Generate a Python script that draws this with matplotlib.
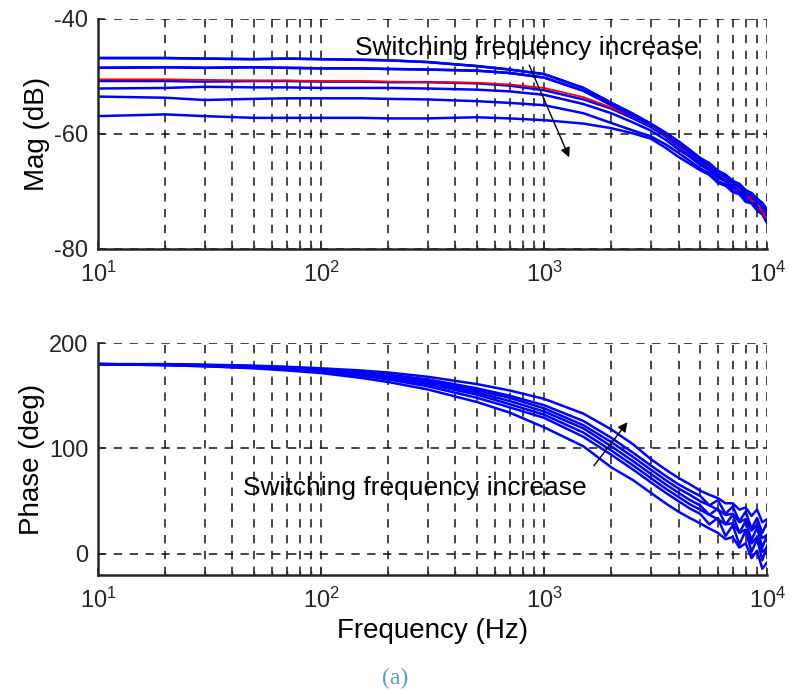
import numpy as np
import matplotlib
matplotlib.use('Agg')
import matplotlib.pyplot as plt
from matplotlib.ticker import LogLocator

plt.rcParams['font.family'] = ['Liberation Sans', 'DejaVu Sans']
plt.rcParams['mathtext.fontset'] = 'custom'
plt.rcParams['mathtext.rm'] = 'Liberation Sans'
plt.rcParams['axes.unicode_minus'] = False

# frequency points (Hz)
freq = [10, 20, 30, 50, 70, 100, 150, 200, 300, 500, 700, 1000, 1500, 2000, 2500,
        3000, 3500, 4000, 4500, 5000, 5500, 6000, 6500, 7000, 7500, 8000, 8500, 9000, 9500, 10000]

# magnitude (dB), one list per switching frequency
mag1 = [-46.8, -46.8, -46.9, -47.0, -46.9, -47.0, -47.1, -47.2, -47.5, -48.2, -48.8, -49.6, -52.0, -54.6, -56.5,
        -58.2, -59.8, -61.3, -62.8, -64.2, -65.1, -66.4, -67.1, -68.2, -68.7, -69.8, -70.3, -71.3, -72.0, -73.2]
mag2 = [-48.5, -48.4, -48.5, -48.4, -48.5, -48.6, -48.6, -48.7, -48.8, -49.0, -49.4, -50.2, -52.5, -55.0, -56.9,
        -58.4, -60.0, -61.8, -63.2, -64.6, -65.5, -66.9, -67.5, -68.7, -69.2, -70.3, -70.8, -71.9, -72.4, -73.8]
mag3 = [-50.8, -50.8, -50.9, -50.8, -50.8, -50.9, -50.9, -51.0, -51.0, -51.2, -51.6, -52.4, -54.0, -55.6, -57.3,
        -58.8, -60.4, -62.2, -63.6, -65.0, -65.9, -67.3, -67.9, -69.0, -69.5, -70.7, -71.1, -72.3, -72.8, -74.2]
mag4 = [-52.1, -52.0, -51.8, -51.9, -51.9, -52.0, -52.0, -52.0, -52.1, -52.3, -52.6, -53.2, -54.8, -56.4, -58.0,
        -59.4, -61.0, -62.7, -64.0, -65.4, -66.3, -67.6, -68.2, -69.4, -69.8, -71.1, -71.5, -72.7, -73.2, -74.7]
mag5 = [-53.5, -53.7, -54.1, -53.9, -53.8, -53.8, -53.8, -53.9, -54.0, -54.3, -54.6, -55.0, -56.4, -58.1, -59.4,
        -60.4, -61.8, -63.3, -64.7, -66.0, -66.8, -68.2, -68.7, -69.9, -70.2, -71.5, -71.8, -73.1, -73.7, -75.2]
mag6 = [-56.9, -56.6, -56.9, -57.2, -57.2, -57.2, -57.2, -57.3, -57.3, -57.1, -57.3, -57.6, -58.2, -59.0, -59.9,
        -60.8, -62.4, -64.0, -65.2, -66.3, -67.1, -68.5, -69.0, -70.1, -70.5, -71.8, -72.1, -73.3, -74.0, -75.6]
mag_red = [-50.5, -50.5, -50.6, -50.7, -50.7, -50.8, -50.8, -50.9, -51.0, -51.1, -51.4, -52.0, -53.6, -55.4, -57.0,
           -58.5, -60.2, -62.0, -63.4, -64.6, -65.7, -66.6, -67.8, -68.4, -69.6, -70.0, -71.6, -71.8, -73.6, -74.8]

# phase (deg)
ph1 = [180, 180, 179.5, 178.5, 177.5, 176, 174, 172, 168, 161, 155, 147, 133, 118, 104,
       90, 80, 72, 66, 60, 56, 53, 48, 48, 42, 44, 36, 42, 30, 33]
ph2 = [180, 179.5, 179, 178, 177, 175, 172.5, 170, 165.5, 157, 150, 141, 126, 110, 96,
       84, 74, 66, 60, 55, 46, 51, 38, 45, 31, 40, 24, 34, 20, 30]
ph3 = [180, 179.5, 179, 178, 176.5, 174.5, 171.5, 169, 164, 155, 148, 138, 122, 106, 92,
       80, 70, 62, 56, 50, 46, 42, 37, 38, 30, 33, 22, 28, 15, 18]
ph4 = [180, 179.5, 178.5, 177.5, 176, 174, 171, 168, 162.5, 153, 145, 135, 119, 102, 88,
       76, 66, 58, 51, 46, 37, 43, 28, 37, 20, 31, 13, 25, 6, 18]
ph5 = [180, 179.5, 178.5, 177, 175.5, 173.5, 170, 167, 161, 151, 142, 132, 115, 98, 84,
       72, 62, 54, 47, 42, 37, 33, 28, 29, 20, 23, 10, 16, 2, 6]
ph6 = [180, 179, 178, 176.5, 175, 172.5, 169, 165.5, 159, 148, 139, 129, 111, 94, 80,
       68, 58, 50, 43, 38, 28, 34, 17, 27, 9, 22, 2, 14, -6, 8]
ph7 = [180, 179, 178, 176, 174, 171.5, 167, 163, 156, 144, 134, 120, 102, 82, 70,
       58, 48, 40, 34, 29, 24, 20, 14, 16, 6, 10, -4, 3, -14, -8]

mags = [mag1, mag2, mag3, mag4, mag5, mag6]
phases = [ph1, ph2, ph3, ph4, ph5, ph6, ph7]

fig = plt.figure(figsize=(7.91, 6.91), dpi=100)
ax1 = fig.add_axes([0.124, 0.6397, 0.846, 0.3329])
ax2 = fig.add_axes([0.124, 0.1679, 0.846, 0.3357])

for m in mags:
    ax1.plot(freq, m, color='#0000ff', lw=1.8)
ax1.plot(freq, mag_red, color='#ff0000', lw=1.3)
for m in mags[:2]:
    ax1.plot(freq, m, color='#0000ff', lw=1.8)

for p in phases:
    ax2.plot(freq, p, color='#0000ff', lw=1.8)

for ax in (ax1, ax2):
    ax.set_xscale('log')
    ax.set_xlim(10, 1e4)
    ax.xaxis.set_major_locator(LogLocator(base=10))
    ax.xaxis.set_minor_locator(LogLocator(base=10, subs=np.arange(2, 10)))
    ax.grid(True, which='both', axis='x', color='k', ls=(0, (5, 4.5)), lw=1.2, alpha=0.85)
    ax.grid(True, which='major', axis='y', color='k', ls=(0, (5, 4.5)), lw=1.2, alpha=0.85)
    ax.spines['top'].set_visible(False)
    ax.spines['right'].set_visible(False)
    ax.spines['left'].set_linewidth(1.8)
    ax.spines['bottom'].set_linewidth(1.8)
    ax.spines['left'].set_color('#262626')
    ax.spines['bottom'].set_color('#262626')
    ax.tick_params(which='major', direction='in', length=5, width=1.2, labelsize=17, pad=7, colors='#262626')
    ax.tick_params(which='minor', direction='in', length=3, width=1.0, colors='#262626')
    ax.tick_params(axis='x', which='major', pad=9)

ax1.set_ylim(-80, -40)
ax1.set_yticks([-80, -60, -40])
ax1.set_ylabel('Mag (dB)', fontsize=20, labelpad=3)

ax2.set_ylim(-20, 200)
ax2.set_yticks([0, 100, 200])
ax2.set_ylabel('Phase (deg)', fontsize=20, labelpad=3)
ax2.set_xlabel('Frequency (Hz)', fontsize=20, labelpad=4)

ax1.text(142, -45.0, 'Switching frequency increase', fontsize=19, va='center', ha='left')
ax1.annotate('', xy=(1309, -64.5), xytext=(847, -47.6),
             arrowprops=dict(arrowstyle='-|>', color='k', lw=1.0, mutation_scale=14))

ax2.text(44.7, 62.6, 'Switching frequency increase', fontsize=19, va='center', ha='left')
ax2.annotate('', xy=(2404, 127), xytext=(1641, 81.5),
             arrowprops=dict(arrowstyle='-|>', color='k', lw=1.0, mutation_scale=14))

fig.text(395 / 791, 1 - 678 / 691, '(a)', fontsize=17, color='#5b9bd5',
         family='Liberation Serif', ha='center', va='center')

plt.savefig('out.png', dpi=100)
